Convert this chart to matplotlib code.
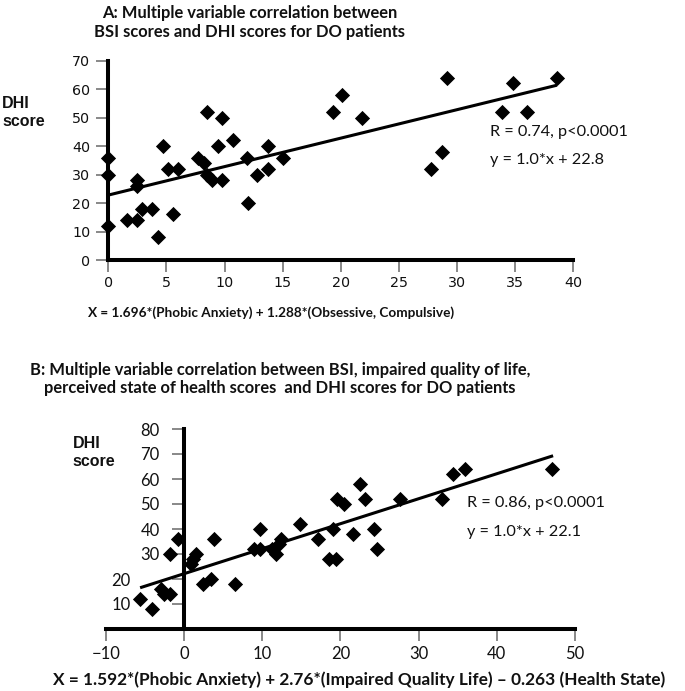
import matplotlib
matplotlib.use('Agg')
import matplotlib.pyplot as plt
from matplotlib.transforms import offset_copy

# ---------------- data ----------------
a_x = [0, 0, 0, 1.6, 2.5, 2.5, 2.5, 2.9, 3.8, 4.3, 4.7, 5.1, 5.6, 6.0, 7.7, 8.2,
       8.5, 8.5, 8.9, 9.4, 9.8, 9.8, 10.7, 11.9, 12.0, 12.8, 13.7, 13.7, 15.0,
       19.3, 20.1, 21.8, 27.8, 28.7, 29.1, 33.9, 34.8, 36.0, 38.6]
a_y = [36, 30, 12, 14, 14, 28, 26, 18, 18, 8, 40, 32, 16, 32, 36, 34,
       52, 30, 28, 40, 50, 28, 42, 36, 20, 30, 40, 32, 36,
       52, 58, 50, 32, 38, 64, 52, 62, 52, 64]

b_x = [-5.6, -4.1, -2.9, -2.6, -1.8, -1.8, -0.7, 0.9, 1.2, 1.6, 2.5, 3.4, 3.8,
       6.5, 8.9, 9.7, 9.7, 11.3, 11.8, 12.1, 12.4, 14.9, 17.2, 18.6, 19.4, 19.0,
       19.6, 20.5, 21.6, 22.5, 23.1, 24.3, 24.7, 27.6, 33.0, 34.4, 36.0, 47.0]
b_y = [12, 8, 16, 14, 14, 30, 36, 26, 28, 30, 18, 20, 36,
       18, 32, 32, 40, 32, 30, 34, 36, 42, 36, 28, 28, 40,
       52, 50, 38, 58, 52, 40, 32, 52, 52, 62, 64, 64]

a_slope, a_intercept = 1.0, 22.8
b_slope, b_intercept = 1.0, 22.1
a_fit_range = [0, 38.6]
b_fit_range = [-5.6, 47.2]

a_xticks = [0, 5, 10, 15, 20, 25, 30, 35, 40]
a_yticks = [0, 10, 20, 30, 40, 50, 60, 70]
b_xticks = [-10, 0, 10, 20, 30, 40, 50]
b_yticks = [10, 20, 30, 40, 50, 60, 70, 80]

title_a = "A: Multiple variable correlation between\nBSI scores and DHI scores for DO patients"
title_b = ("B: Multiple variable correlation between BSI, impaired quality of life,\n"
           "perceived state of health scores  and DHI scores for DO patients")
xlabel_a = "X = 1.696*(Phobic Anxiety) + 1.288*(Obsessive, Compulsive)"
xlabel_b = "X = 1.592*(Phobic Anxiety) + 2.76*(Impaired Quality Life) \u2013 0.263 (Health State)"
stats_a = ["R = 0.74, p<0.0001", "y = 1.0*x + 22.8"]
stats_b = ["R = 0.86, p<0.0001", "y = 1.0*x + 22.1"]

# ---------------- figure ----------------
W, H = 685, 691
fig = plt.figure(figsize=(W / 100, H / 100), dpi=100)


def fx(px):
    return px / W


def fy(py):
    return 1 - py / H


TICKC = '#7f7f7f'
TXT = '#111111'


def style(ax, labfam, labsize, ypad, xpad):
    for s in ['top', 'right']:
        ax.spines[s].set_visible(False)
    for s in ['left', 'bottom']:
        ax.spines[s].set_linewidth(2.9)
        ax.spines[s].set_color('black')
    ax.tick_params(direction='out', length=8.5, width=1.3, color=TICKC,
                   labelcolor=TXT, labelsize=labsize)
    ax.tick_params(axis='y', pad=ypad)
    ax.tick_params(axis='x', pad=xpad)
    for lab in ax.get_xticklabels() + ax.get_yticklabels():
        lab.set_family(labfam)


# ---- Panel A ----
axA = fig.add_axes([fx(108.3), fy(260), (573.3 - 108.3) / W, (260 - 60.7) / H])
axA.set_xlim(0, 40)
axA.set_ylim(0, 70)
axA.set_xticks(a_xticks)
axA.set_yticks(a_yticks)
style(axA, 'DejaVu Sans', 10.3, 4.5, 3)
axA.plot(a_fit_range, [a_slope * v + a_intercept for v in a_fit_range],
         color='black', lw=2.2, zorder=3, clip_on=False, solid_capstyle='butt')
axA.scatter(a_x, a_y, marker='D', s=60, color='black', zorder=4, clip_on=False,
            linewidths=0)
fig.text(fx(490), fy(132), stats_a[0], family='Lato', fontsize=11.7, color=TXT,
         va='center', ha='left')
fig.text(fx(490), fy(160), stats_a[1], family='Lato', fontsize=11.7, color=TXT,
         va='center', ha='left')

# ---- Panel B ----
axB = fig.add_axes([fx(105.7), fy(629), (575 - 105.7) / W, 200 / H])
axB.set_xlim(-10, 50)
axB.set_ylim(0, 80)
axB.set_xticks(b_xticks)
axB.set_yticks(b_yticks)
axB.spines['left'].set_position(('data', 0))
axB.spines['bottom'].set_position(('data', 0))
style(axB, 'Lato', 12, 9.0, 3.5)
axB.plot(b_fit_range, [b_slope * v + b_intercept for v in b_fit_range],
         color='black', lw=2.2, zorder=3, clip_on=False, solid_capstyle='butt')
axB.scatter(b_x, b_y, marker='D', s=60, color='black', zorder=4, clip_on=False,
            linewidths=0)
for tk, val in zip(axB.yaxis.get_major_ticks(), b_yticks):
    if val in (10, 20):
        lab = tk.label1
        lab.set_transform(offset_copy(lab.get_transform(), fig=fig, x=-29, y=0,
                                      units='dots'))
fig.text(fx(467), fy(502.7), stats_b[0], family='Lato', fontsize=11.7, color=TXT,
         va='center', ha='left')
fig.text(fx(467), fy(531.7), stats_b[1], family='Lato', fontsize=11.7, color=TXT,
         va='center', ha='left')

# ---- texts ----
fig.text(fx(250), fy(22.5), title_a, family='Lato', weight='bold', fontsize=11.9,
         ha='center', va='center', linespacing=1.2, color=TXT)
fig.text(fx(280), fy(379), title_b, family='Lato', weight='bold', fontsize=11.9,
         ha='center', va='center', linespacing=1.2, color=TXT)
fig.text(fx(271), fy(313), xlabel_a, family='Lato', weight='bold', fontsize=9.8,
         ha='center', va='center', color=TXT)
fig.text(fx(359), fy(680), xlabel_b, family='Lato', weight='bold', fontsize=12.4,
         ha='center', va='center', color=TXT)

fig.text(fx(2), fy(112), "DHI\nscore", family='Liberation Sans', weight='bold',
         fontsize=11.5, ha='left', va='center', linespacing=1.25, color=TXT)
fig.text(fx(72.7), fy(452), "DHI\nscore", family='Liberation Sans', weight='bold',
         fontsize=11.5, ha='left', va='center', linespacing=1.25, color=TXT)

fig.savefig('out.png', dpi=100, facecolor='white')
